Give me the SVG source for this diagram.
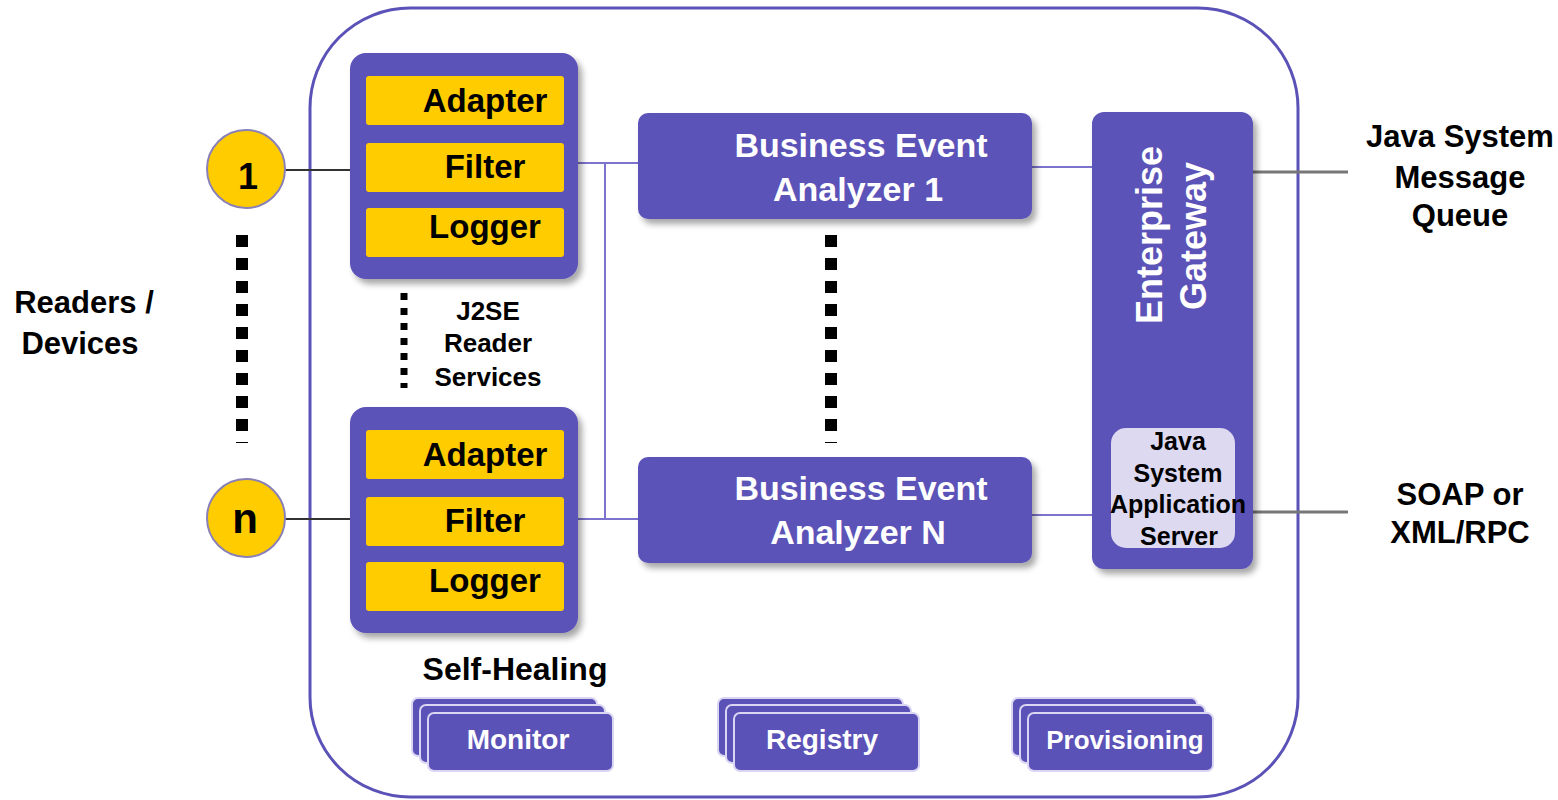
<svg xmlns="http://www.w3.org/2000/svg" width="1558" height="800" viewBox="0 0 1558 800">
<defs>
<filter id="sh" x="-10%" y="-10%" width="130%" height="130%">
<feDropShadow dx="4" dy="5" stdDeviation="3" flood-color="#000" flood-opacity="0.35"/>
</filter>
<style>
text{font-family:"Liberation Sans",Arial,sans-serif;font-weight:bold;}
.blk{fill:#000;}
.wht{fill:#fff;}
.pbox{fill:#5b52b8;}
.ybar{fill:#ffcc00;}
.stack{fill:#5b52b8;stroke:#d9d5f2;stroke-width:2;}
.pl{stroke:#7b73cc;stroke-width:2;fill:none;}
.dl{stroke:#333;stroke-width:2;fill:none;}
.gl{stroke:#777;stroke-width:3;fill:none;}
.dots{stroke:#000;stroke-width:12;fill:none;stroke-dasharray:12 11;}
.sdots{stroke:#000;stroke-width:7;fill:none;stroke-dasharray:7 8;}
</style>
</defs>
<rect width="1558" height="800" fill="#fff"/>
<rect id="frame" x="310" y="8" width="988" height="789" rx="100" fill="none" stroke="#5b52b8" stroke-width="3"/>

<g id="connectors">
<line class="dl" x1="285" y1="170" x2="350" y2="170"/>
<line class="dl" x1="285" y1="519" x2="350" y2="519"/>
<polyline class="pl" points="578,163 638,163"/>
<polyline class="pl" points="605,163 605,519"/>
<polyline class="pl" points="578,519 638,519"/>
<line class="pl" x1="1032" y1="167" x2="1092" y2="167"/>
<line class="pl" x1="1032" y1="515" x2="1092" y2="515"/>
<line class="gl" x1="1250" y1="172" x2="1348" y2="172"/>
<line class="gl" x1="1245" y1="512" x2="1348" y2="512"/>
<line class="dots" x1="242" y1="235" x2="242" y2="443"/>
<line class="dots" x1="831" y1="235" x2="831" y2="443"/>
<line class="sdots" x1="404" y1="293" x2="404" y2="388"/>
</g>

<g id="reader1">
<circle cx="246" cy="169" r="39" fill="#ffcc00" stroke="#8a80b8" stroke-width="2"/>
<text class="blk" x="248" y="189" font-size="36" text-anchor="middle">1</text>
</g>
<g id="readerN">
<circle cx="246" cy="518" r="39" fill="#ffcc00" stroke="#8a80b8" stroke-width="2"/>
<text class="blk" x="245" y="533" font-size="42" text-anchor="middle">n</text>
</g>
<g id="readersLabel">
<text class="blk" x="84" y="313" font-size="31" text-anchor="middle">Readers /</text>
<text class="blk" x="80" y="354" font-size="31" text-anchor="middle">Devices</text>
</g>

<g id="rs1">
<rect class="pbox" x="350" y="53" width="228" height="226" rx="16" filter="url(#sh)"/>
<rect class="ybar" x="366" y="76" width="198" height="49" rx="3"/>
<rect class="ybar" x="366" y="143" width="198" height="49" rx="3"/>
<rect class="ybar" x="366" y="208" width="198" height="49" rx="3"/>
<text class="blk" x="485" y="112" font-size="33" text-anchor="middle">Adapter</text>
<text class="blk" x="485" y="178" font-size="33" text-anchor="middle">Filter</text>
<text class="blk" x="485" y="238" font-size="33" text-anchor="middle">Logger</text>
</g>
<g id="rsN">
<rect class="pbox" x="350" y="407" width="228" height="226" rx="16" filter="url(#sh)"/>
<rect class="ybar" x="366" y="430" width="198" height="49" rx="3"/>
<rect class="ybar" x="366" y="497" width="198" height="49" rx="3"/>
<rect class="ybar" x="366" y="562" width="198" height="49" rx="3"/>
<text class="blk" x="485" y="466" font-size="33" text-anchor="middle">Adapter</text>
<text class="blk" x="485" y="532" font-size="33" text-anchor="middle">Filter</text>
<text class="blk" x="485" y="592" font-size="33" text-anchor="middle">Logger</text>
</g>
<g id="j2se">
<text class="blk" x="488" y="320" font-size="26" text-anchor="middle">J2SE</text>
<text class="blk" x="488" y="352" font-size="26" text-anchor="middle">Reader</text>
<text class="blk" x="488" y="386" font-size="26" text-anchor="middle">Services</text>
</g>

<g id="bea1">
<rect class="pbox" x="638" y="113" width="394" height="106" rx="10" filter="url(#sh)"/>
<text class="wht" x="861" y="157" font-size="34" text-anchor="middle">Business Event</text>
<text class="wht" x="858" y="201" font-size="34" text-anchor="middle">Analyzer 1</text>
</g>
<g id="beaN">
<rect class="pbox" x="638" y="457" width="394" height="106" rx="10" filter="url(#sh)"/>
<text class="wht" x="861" y="500" font-size="34" text-anchor="middle">Business Event</text>
<text class="wht" x="858" y="544" font-size="34" text-anchor="middle">Analyzer N</text>
</g>

<g id="gateway">
<rect class="pbox" x="1092" y="112" width="161" height="457" rx="12" filter="url(#sh)"/>
<text class="wht" transform="translate(1162,235) rotate(-90)" font-size="36" text-anchor="middle">Enterprise</text>
<text class="wht" transform="translate(1206,236) rotate(-90)" font-size="36" text-anchor="middle">Gateway</text>
<rect x="1111" y="428" width="124" height="120" rx="15" fill="#dcd9f1"/>
<text class="blk" x="1178" y="450" font-size="25" text-anchor="middle">Java</text>
<text class="blk" x="1178" y="482" font-size="25" text-anchor="middle">System</text>
<text class="blk" x="1178" y="513" font-size="25" text-anchor="middle">Application</text>
<text class="blk" x="1179" y="545" font-size="25" text-anchor="middle">Server</text>
</g>

<g id="jms">
<text class="blk" x="1460" y="147" font-size="31" text-anchor="middle">Java System</text>
<text class="blk" x="1460" y="188" font-size="31" text-anchor="middle">Message</text>
<text class="blk" x="1460" y="226" font-size="31" text-anchor="middle">Queue</text>
</g>
<g id="soap">
<text class="blk" x="1460" y="505" font-size="31" text-anchor="middle">SOAP or</text>
<text class="blk" x="1460" y="543" font-size="31" text-anchor="middle">XML/RPC</text>
</g>

<g id="selfhealing">
<text class="blk" x="515" y="680" font-size="32" text-anchor="middle">Self-Healing</text>
</g>
<g id="monitor">
<rect class="stack" x="412" y="698" width="185" height="58" rx="6"/>
<rect class="stack" x="420" y="705" width="185" height="58" rx="6"/>
<rect class="stack" x="428" y="713" width="185" height="58" rx="6"/>
<text class="wht" x="518" y="749" font-size="28" text-anchor="middle">Monitor</text>
</g>
<g id="registry">
<rect class="stack" x="718" y="698" width="185" height="58" rx="6"/>
<rect class="stack" x="726" y="705" width="185" height="58" rx="6"/>
<rect class="stack" x="734" y="713" width="185" height="58" rx="6"/>
<text class="wht" x="822" y="749" font-size="28" text-anchor="middle">Registry</text>
</g>
<g id="provisioning">
<rect class="stack" x="1012" y="698" width="185" height="58" rx="6"/>
<rect class="stack" x="1020" y="705" width="185" height="58" rx="6"/>
<rect class="stack" x="1028" y="713" width="185" height="58" rx="6"/>
<text class="wht" x="1125" y="749" font-size="26" text-anchor="middle">Provisioning</text>
</g>
</svg>
